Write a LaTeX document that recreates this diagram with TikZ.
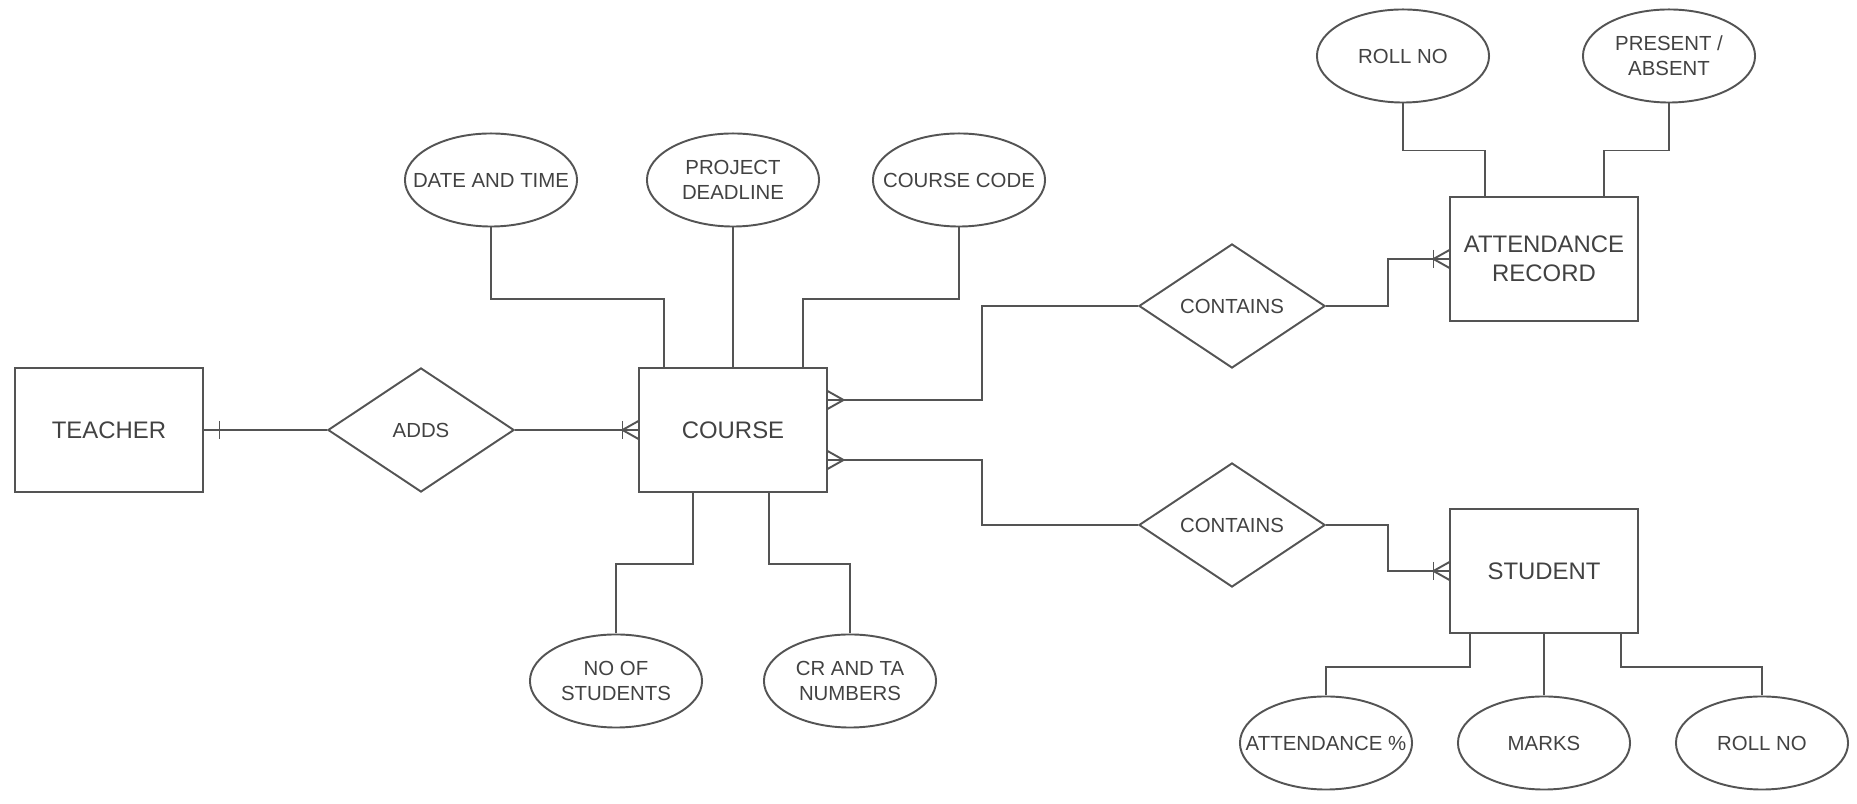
\documentclass[tikz,border=0pt]{standalone}
\usepackage{fontspec}
\setmainfont{Liberation Sans}
\usepackage{tikz}
\usetikzlibrary{shapes.geometric}
\usetikzlibrary{calc}
\definecolor{linegray}{rgb}{0.33,0.33,0.33}
\definecolor{textgray}{rgb}{0.26,0.26,0.26}
\tikzset{
  erline/.style={draw=linegray,line width=0.55pt},
  entity/.style={erline,rectangle,minimum width=1.87cm,minimum height=1.24cm,inner sep=0pt,
    align=center,text=textgray,font=\fontsize{6.8}{8.4}\selectfont},
  relation/.style={erline,diamond,aspect=1.5,minimum width=1.86cm,minimum height=1.24cm,inner sep=0pt,
    text=textgray,font=\fontsize{5.8}{7.1}\selectfont},
  attrib/.style={erline,ellipse,minimum width=1.72cm,minimum height=0.93cm,inner ysep=0pt,inner xsep=-0.25cm,
    align=center,text=textgray,font=\fontsize{5.8}{7.1}\selectfont}
}
% crow's foot: #1 = point on entity side, #2 = -1 (west side) or 1 (east side)
\newcommand{\manyend}[2]{
  \draw[erline] ($(#1)+(0,-9)$) -- ($(#1)+(#2*16,0)$) -- ($(#1)+(0,9)$);
}
\newcommand{\oneend}[2]{
  \draw[erline] ($(#1)+(#2*16,-9)$) -- ($(#1)+(#2*16,9)$);
}

\begin{document}
\begin{tikzpicture}[x=0.01cm,y=-0.01cm]
  \useasboundingbox (0,0) rectangle (1857,804);
  % entities
  \node[entity] (teacher) at (109,430) {TEACHER};
  \node[entity] (course) at (733,430) {COURSE};
  \node[entity] (attrec) at (1544,259) {ATTENDANCE\\RECORD};
  \node[entity] (student) at (1544,571) {STUDENT};
  % relations
  \node[relation] (adds) at (421,430) {ADDS};
  \node[relation] (contains1) at (1232,306) {CONTAINS};
  \node[relation] (contains2) at (1232,525) {CONTAINS};
  % attributes
  \node[attrib] (datetime) at (491,180) {DATE AND TIME};
  \node[attrib] (deadline) at (733,180) {PROJECT\\DEADLINE};
  \node[attrib] (coursecode) at (959,180) {COURSE CODE};
  \node[attrib] (nostud) at (616,681) {NO OF\\STUDENTS};
  \node[attrib] (crta) at (850,681) {CR AND TA\\NUMBERS};
  \node[attrib] (rollno1) at (1403,56) {ROLL NO};
  \node[attrib] (present) at (1669,56) {PRESENT /\\ABSENT};
  \node[attrib] (attpct) at (1326,743) {ATTENDANCE \%};
  \node[attrib] (marks) at (1544,743) {MARKS};
  \node[attrib] (rollno2) at (1762,743) {ROLL NO};
  \coordinate (cup) at ($(course.east)+(0,-30)$);
  \coordinate (cdown) at ($(course.east)+(0,30)$);
  % relationships
  \draw[erline] (teacher) -- (adds);
  \draw[erline] (adds) -- (course);
  \draw[erline] (cup) -| ($(contains1.west)+(-156,0)$) -- (contains1.west);
  \draw[erline] (cdown) -| ($(contains2.west)+(-156,0)$) -- (contains2.west);
  \draw[erline] (contains1.east) -| ($(contains1.east)!.5!(attrec.west)$) |- (attrec.west);
  \draw[erline] (contains2.east) -| ($(contains2.east)!.5!(student.west)$) |- (student.west);
  \oneend{teacher.east}{1}
  \manyend{course.west}{-1}
  \oneend{course.west}{-1}
  \manyend{cup}{1}
  \manyend{cdown}{1}
  \manyend{attrec.west}{-1}
  \oneend{attrec.west}{-1}
  \manyend{student.west}{-1}
  \oneend{student.west}{-1}
  % attribute links
  \draw[erline] (datetime.south) -- ++(0,71.5) -| ($(course.north)+(-69,0)$);
  \draw[erline] (deadline) -- (course);
  \draw[erline] (coursecode.south) -- ++(0,71.5) -| ($(course.north)+(70,0)$);
  \draw[erline] ($(course.south)+(-40,0)$) -- ++(0,71) -| (nostud.north);
  \draw[erline] ($(course.south)+(36,0)$) -- ++(0,71) -| (crta.north);
  \draw[erline] (rollno1.south) -- ++(0,47) -| ($(attrec.north)+(-59,0)$);
  \draw[erline] (present.south) -- ++(0,47) -| ($(attrec.north)+(60,0)$);
  \draw[erline] ($(student.south)+(-74,0)$) -- ++(0,33) -| (attpct.north);
  \draw[erline] (student) -- (marks);
  \draw[erline] ($(student.south)+(77,0)$) -- ++(0,33) -| (rollno2.north);
\end{tikzpicture}
\end{document}
